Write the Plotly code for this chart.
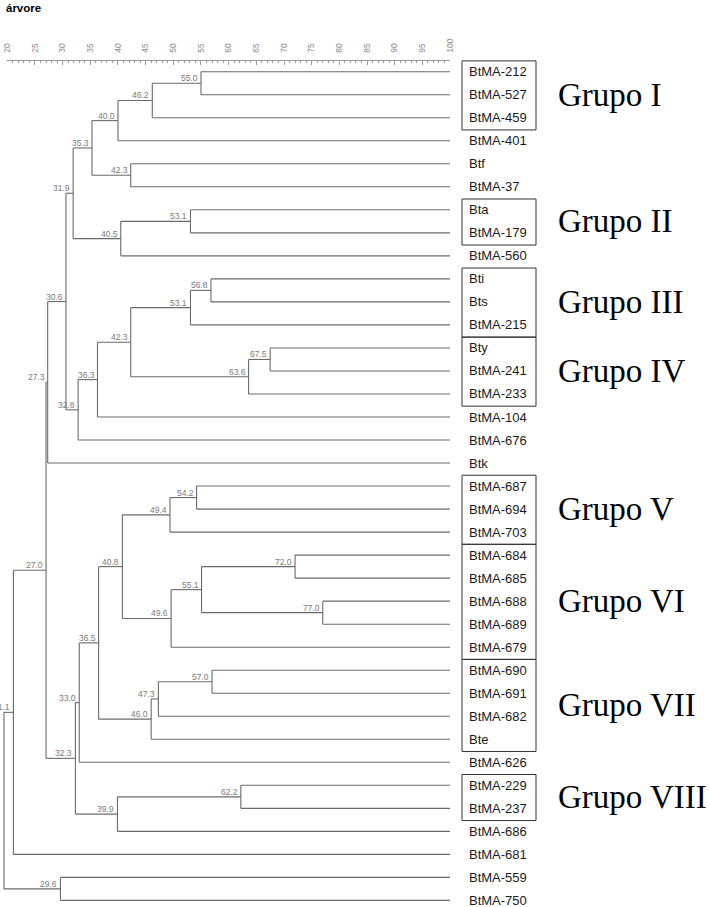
import plotly.graph_objects as go

# leaves, top to bottom
leaves = ["BtMA-212", "BtMA-527", "BtMA-459", "BtMA-401", "Btf", "BtMA-37",
          "Bta", "BtMA-179", "BtMA-560", "Bti", "Bts", "BtMA-215", "Bty",
          "BtMA-241", "BtMA-233", "BtMA-104", "BtMA-676", "Btk", "BtMA-687",
          "BtMA-694", "BtMA-703", "BtMA-684", "BtMA-685", "BtMA-688",
          "BtMA-689", "BtMA-679", "BtMA-690", "BtMA-691", "BtMA-682", "Bte",
          "BtMA-626", "BtMA-229", "BtMA-237", "BtMA-686", "BtMA-681",
          "BtMA-559", "BtMA-750"]

# merges: a child is a leaf name or the index of an earlier merge
merge_left = ["BtMA-212", 0, 1, "Btf", 2, "Bta", 5, 4, "Bti", 8, "Bty", 10,
              9, 12, 13, 7, 15, "BtMA-687", 17, "BtMA-684", "BtMA-688", 19,
              21, 18, "BtMA-690", 24, 25, 23, 27, "BtMA-229", 29, 28, 16, 32,
              "BtMA-559", 33]
merge_right = ["BtMA-527", "BtMA-459", "BtMA-401", "BtMA-37", 3, "BtMA-179",
               "BtMA-560", 6, "Bts", "BtMA-215", "BtMA-241", "BtMA-233", 11,
               "BtMA-104", "BtMA-676", 14, "Btk", "BtMA-694", "BtMA-703",
               "BtMA-685", "BtMA-689", 20, "BtMA-679", 22, "BtMA-691",
               "BtMA-682", "Bte", 26, "BtMA-626", "BtMA-237", "BtMA-686", 30,
               31, "BtMA-681", "BtMA-750", 34]
merge_sim = [55.0, 46.2, 40.0, 42.3, 35.3, 53.1, 40.5, 31.9, 56.8, 53.1, 67.5,
             63.6, 42.3, 36.3, 32.8, 30.6, 27.3, 54.2, 49.4, 72.0, 77.0, 55.1,
             49.6, 40.8, 57.0, 47.3, 46.0, 36.5, 33.0, 62.2, 39.9, 32.3, 27.0,
             21.1, 29.6, 19.4]

group_names = ["Grupo I", "Grupo II", "Grupo III", "Grupo IV", "Grupo V",
               "Grupo VI", "Grupo VII", "Grupo VIII"]
group_first = ["BtMA-212", "Bta", "Bti", "Bty", "BtMA-687", "BtMA-684",
               "BtMA-690", "BtMA-229"]
group_last = ["BtMA-459", "BtMA-179", "BtMA-215", "BtMA-233", "BtMA-703",
              "BtMA-679", "Bte", "BtMA-237"]

W, H = 709, 907
PX20, PXU = 7.3, 5.534      # pixel of 20 and pixels per unit
Y0, DY = 71.7, 23.02        # pixel of first leaf and leaf spacing

def xv(px):
    return 20 + (px - PX20) / PXU

leaf_y = {name: i for i, name in enumerate(leaves)}
node_y = []
def pos(c):
    if isinstance(c, str):
        return 100.0, leaf_y[c]
    return merge_sim[c], node_y[c]

for a, b in zip(merge_left, merge_right):
    node_y.append((pos(a)[1] + pos(b)[1]) / 2)

xs, ys = [], []
for i, (a, b) in enumerate(zip(merge_left, merge_right)):
    s = merge_sim[i]
    ya, yb = pos(a)[1], pos(b)[1]
    xs += [s, s, None]
    ys += [ya, yb, None]
    for c in (a, b):
        cx, cy = pos(c)
        xs += [s, cx, None]
        ys += [cy, cy, None]

fig = go.Figure()
fig.add_trace(go.Scatter(x=xs, y=ys, mode="lines",
                         line=dict(color="#6a6a6a", width=1.1),
                         hoverinfo="skip", showlegend=False))
# dummy trace for the similarity ruler
fig.add_trace(go.Scatter(x=[20, 100], y=[0, 0], mode="markers",
                         marker=dict(opacity=0), xaxis="x2",
                         hoverinfo="skip", showlegend=False))

ann = []
for i, s in enumerate(merge_sim[:-1]):
    ann.append(dict(x=s, y=node_y[i], text=f"{s:.1f}", showarrow=False,
                    xanchor="right", yanchor="bottom", xshift=-1, yshift=-2,
                    font=dict(family="Liberation Sans, Arial", size=8.5,
                              color="#7a7a7a")))
for name in leaves:
    ann.append(dict(x=xv(466.5), y=leaf_y[name], text=name, showarrow=False,
                    xanchor="left", yanchor="middle",
                    font=dict(family="Liberation Sans, Arial", size=13,
                              color="#1a1a1a")))

shapes = []
for g, f, l in zip(group_names, group_first, group_last):
    y0, y1 = leaf_y[f], leaf_y[l]
    shapes.append(dict(type="rect", xref="x", yref="y",
                       x0=xv(462), x1=xv(536), y0=y0 - 0.47, y1=y1 + 0.53,
                       line=dict(color="#333333", width=1)))
    ann.append(dict(x=xv(556), y=(y0 + y1) / 2, text=g, showarrow=False,
                    xanchor="left", yanchor="middle",
                    font=dict(family="Liberation Serif, Times New Roman",
                              size=33, color="#000000")))

ann.append(dict(x=4 / W, y=1 - 8 / H, xref="paper", yref="paper",
                text="<b>árvore</b>", showarrow=False, xanchor="left",
                yanchor="middle",
                font=dict(family="Liberation Sans, Arial", size=11.5,
                          color="#000000")))

fig.update_layout(
    width=W, height=H, margin=dict(l=0, r=0, t=0, b=0),
    plot_bgcolor="rgba(0,0,0,0)", paper_bgcolor="white",
    xaxis=dict(range=[xv(0), xv(W)], visible=False, domain=[0, 1],
               automargin=False),
    yaxis=dict(range=[(H - Y0) / DY, -Y0 / DY], visible=False,
               automargin=False),
    xaxis2=dict(domain=[PX20 / W, (PX20 + 80 * PXU) / W], range=[20, 100],
                anchor="free", position=1 - 59.5 / H, side="top",
                automargin=False,
                showline=True, linecolor="#9a9a9a", linewidth=1,
                showgrid=False, zeroline=False,
                tickmode="linear", tick0=20, dtick=5,
                ticks="inside", ticklen=4, tickcolor="#9a9a9a",
                minor=dict(dtick=1, tick0=20, ticks="inside", ticklen=2,
                           tickcolor="#9a9a9a"),
                tickangle=-90, ticklabelstandoff=5,
                ticklabeloverflow="allow",
                tickfont=dict(family="Liberation Sans, Arial", size=8.5,
                              color="#8a8a8a")),
    annotations=ann, shapes=shapes,
)

fig.write_html("out.html", config={"displayModeBar": False},
               post_script="document.body.style.margin='0';")
